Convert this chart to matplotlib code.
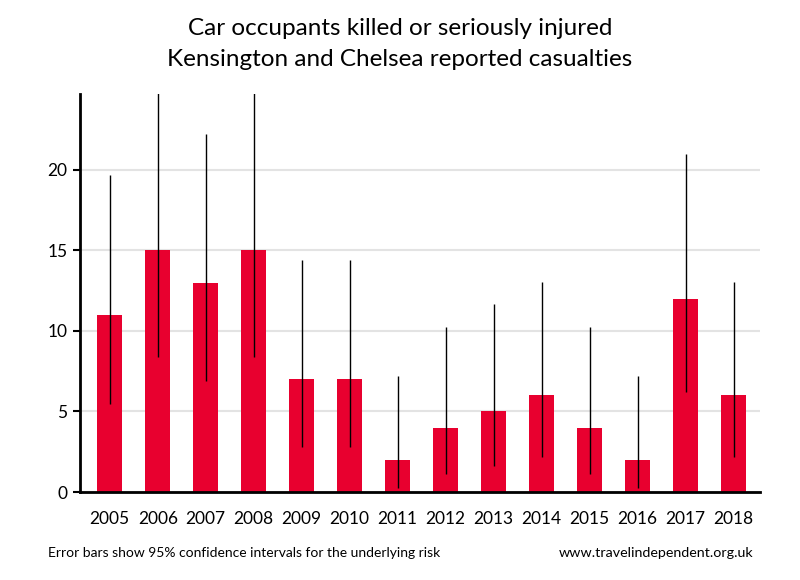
import matplotlib
matplotlib.use("Agg")
import matplotlib.pyplot as plt
import numpy as np

years = ["2005", "2006", "2007", "2008", "2009", "2010", "2011", "2012",
         "2013", "2014", "2015", "2016", "2017", "2018"]
values = [11, 15, 13, 15, 7, 7, 2, 4, 5, 6, 4, 2, 12, 6]
ci_low = [5.49, 8.39, 6.92, 8.39, 2.81, 2.81, 0.24, 1.09, 1.62, 2.2, 1.09, 0.24, 6.2, 2.2]
ci_high = [19.68, 24.74, 22.23, 24.74, 14.42, 14.42, 7.22, 10.24, 11.67, 13.06, 10.24, 7.22, 20.96, 13.06]

plt.rcParams['font.family'] = ['Lato', 'DejaVu Sans']

fig = plt.figure(figsize=(8, 5.8), dpi=100)
ax = fig.add_axes([0.1, 0.1517, 0.85, 0.6862])

x = np.arange(len(years))
ax.bar(x, values, width=0.52, color='#E8002F', zorder=2)
ax.vlines(x, ci_low, ci_high, color='black', linewidth=1, zorder=3)

ax.set_xlim(-0.62, len(years) - 0.45)
ax.set_ylim(0, 24.7)
ax.set_yticks([0, 5, 10, 15, 20])
ax.set_xticks(x)
ax.set_xticklabels(years)
ax.tick_params(axis='x', length=0, pad=14, labelsize=12.5)
ax.tick_params(axis='y', length=5, width=1.5, labelsize=12.5, pad=4)
ax.yaxis.grid(True, color='#e3e3e3', linewidth=1.5, zorder=0)
ax.set_axisbelow(True)
for s in ['top', 'right']:
    ax.spines[s].set_visible(False)
ax.spines['left'].set_linewidth(2)
ax.spines['bottom'].set_linewidth(2)

fig.text(0.5, 0.951, "Car occupants killed or seriously injured", ha='center', va='center', fontsize=17.5)
fig.text(0.5, 0.897, "Kensington and Chelsea reported casualties", ha='center', va='center', fontsize=17.5)
fig.text(0.06, 0.047, "Error bars show 95% confidence intervals for the underlying risk", ha='left', va='center', fontsize=10)
fig.text(0.942, 0.047, "www.travelindependent.org.uk", ha='right', va='center', fontsize=10.3)

fig.savefig("out.png", dpi=100)
